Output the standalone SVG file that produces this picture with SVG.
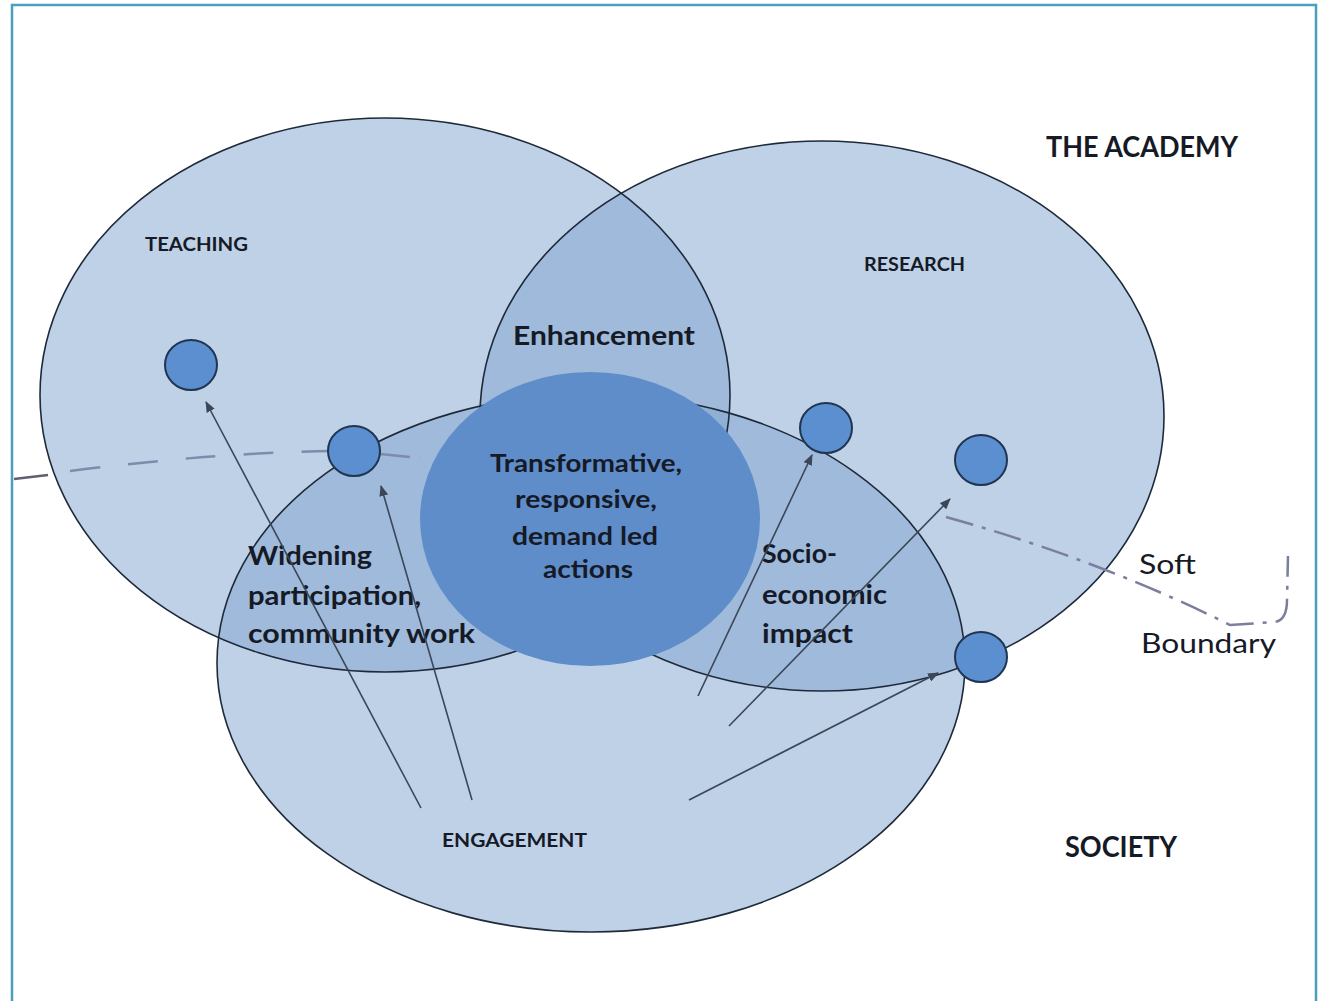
<svg xmlns="http://www.w3.org/2000/svg" width="1319" height="1001" viewBox="0 0 1319 1001">
<defs>
<style>
.big{fill:#7fa3cf;fill-opacity:0.5;stroke:none}
.rim{fill:none;stroke:#1e2a3a;stroke-width:1.6}
.dot{fill:#5b8fd0;stroke:#1f3550;stroke-width:2}
.arrow{stroke:#3b4656;stroke-width:1.6;fill:none;marker-end:url(#ah)}
text{font-family:Lato,"Liberation Sans",Arial,sans-serif;fill:#151a26}
.cap{font-size:19px;font-weight:bold}
.lab{font-size:27px;font-weight:bold}
.core{font-size:24px;font-weight:bold}
.head{font-size:28px;font-weight:bold}
.soft{font-size:27px}
</style>
<marker id="ah" viewBox="0 0 11 9" refX="10" refY="4.5" markerWidth="11" markerHeight="9" markerUnits="userSpaceOnUse" orient="auto">
<path d="M0,0 L11,4.5 L0,9 z" fill="#3b4656"/>
</marker>
</defs>
<rect x="0" y="0" width="1319" height="1001" fill="#ffffff"/>
<rect id="frame" x="12" y="5" width="1304" height="1010" fill="none" stroke="#4a9fbf" stroke-width="2.5"/>

<g id="fills">
<ellipse class="big" cx="385" cy="395" rx="345" ry="277"/>
<ellipse class="big" cx="822" cy="416" rx="342" ry="275"/>
<ellipse class="big" cx="591" cy="663" rx="374" ry="269"/>
</g>

<g id="teaching">
<ellipse class="rim" cx="385" cy="395" rx="345" ry="277"/>
<text class="cap" x="145" y="251" textLength="103" lengthAdjust="spacingAndGlyphs">TEACHING</text>
</g>
<g id="research">
<ellipse class="rim" cx="822" cy="416" rx="342" ry="275"/>
<text class="cap" x="864" y="271" textLength="101" lengthAdjust="spacingAndGlyphs">RESEARCH</text>
</g>
<g id="engagement">
<ellipse class="rim" cx="591" cy="663" rx="374" ry="269"/>
<text class="cap" x="442" y="847" textLength="145" lengthAdjust="spacingAndGlyphs">ENGAGEMENT</text>
</g>

<g id="soft-boundary" fill="none" stroke-width="2.5">
<path d="M14,479 L48,475" stroke="#5e6070"/>
<path d="M70,471 Q220,452 340,451" stroke="#7d8cab" stroke-dasharray="30 28"/>
<path d="M380,454 L420,458" stroke="#7d8cab" stroke-dasharray="30 10"/>
<path d="M946,517 Q1100,560 1230,625 L1275,622 Q1287,620 1287,600 L1288,556" stroke="#7b7e9c" stroke-dasharray="28 9 4 9"/>
</g>

<g id="core">
<ellipse cx="590" cy="519" rx="170" ry="147" fill="#5f8dca"/>
<text class="core" text-anchor="middle" x="586" y="472" textLength="192" lengthAdjust="spacingAndGlyphs">Transformative,</text>
<text class="core" text-anchor="middle" x="586" y="508" textLength="142" lengthAdjust="spacingAndGlyphs">responsive,</text>
<text class="core" text-anchor="middle" x="585" y="545" textLength="146" lengthAdjust="spacingAndGlyphs">demand led</text>
<text class="core" text-anchor="middle" x="588" y="578" textLength="90" lengthAdjust="spacingAndGlyphs">actions</text>
</g>

<g id="enhancement">
<text class="lab" x="513" y="345" textLength="182" lengthAdjust="spacingAndGlyphs">Enhancement</text>
</g>

<g id="widening">
<text class="lab" x="248" y="565" textLength="124" lengthAdjust="spacingAndGlyphs">Widening</text>
<text class="lab" x="248" y="605" textLength="173" lengthAdjust="spacingAndGlyphs">participation,</text>
<text class="lab" x="248" y="643" textLength="227" lengthAdjust="spacingAndGlyphs">community work</text>
</g>

<g id="socio-economic">
<text class="lab" x="762" y="563" textLength="75" lengthAdjust="spacingAndGlyphs">Socio-</text>
<text class="lab" x="762" y="604" textLength="125" lengthAdjust="spacingAndGlyphs">economic</text>
<text class="lab" x="762" y="643" textLength="91" lengthAdjust="spacingAndGlyphs">impact</text>
</g>

<g id="connectors">
<line class="arrow" x1="421" y1="808" x2="206" y2="402"/>
<line class="arrow" x1="472" y1="800" x2="381" y2="486"/>
<line class="arrow" x1="698" y1="696" x2="812" y2="455"/>
<line class="arrow" x1="729" y1="726" x2="950" y2="499"/>
<line class="arrow" x1="689" y1="800" x2="938" y2="673"/>
</g>

<g id="dots">
<ellipse id="dot-teaching" class="dot" cx="191" cy="365" rx="26" ry="25"/>
<ellipse id="dot-widening" class="dot" cx="354" cy="451" rx="26" ry="25"/>
<ellipse id="dot-research-a" class="dot" cx="826" cy="428" rx="26" ry="25"/>
<ellipse id="dot-research-b" class="dot" cx="981" cy="460" rx="26" ry="25"/>
<ellipse id="dot-boundary" class="dot" cx="981" cy="657" rx="26" ry="25"/>
</g>

<g id="the-academy">
<text class="head" x="1046" y="157" textLength="192" lengthAdjust="spacingAndGlyphs">THE ACADEMY</text>
</g>
<g id="society">
<text class="head" x="1065" y="857" textLength="112" lengthAdjust="spacingAndGlyphs">SOCIETY</text>
</g>
<g id="boundary-label">
<text class="soft" x="1139" y="574" textLength="57" lengthAdjust="spacingAndGlyphs">Soft</text>
<text class="soft" x="1141" y="653" textLength="135" lengthAdjust="spacingAndGlyphs">Boundary</text>
</g>
</svg>
